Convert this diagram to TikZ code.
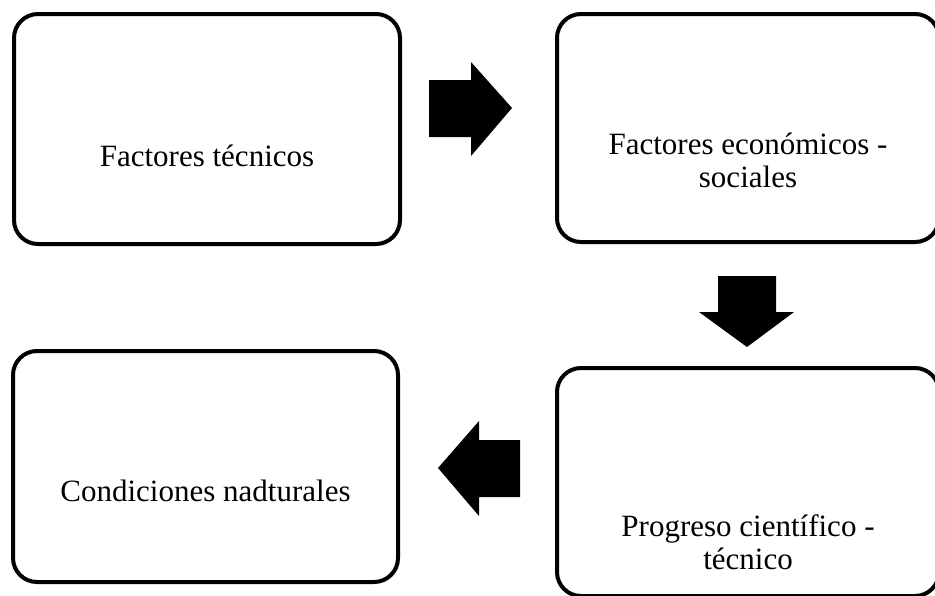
\documentclass[tikz,border=0pt]{standalone}
\usepackage{fontspec}
\setmainfont{Liberation Serif}
\usetikzlibrary{positioning}

\tikzset{
  stagebox/.style={draw=black, line width=4pt, rounded corners=24pt, inner sep=0pt},
  stagetext/.style={align=center, font=\fontsize{31}{33}\selectfont},
  blockarrow/.style={fill=black, draw=none}
}

\begin{document}
\begin{tikzpicture}[x=1pt,y=-1pt]
      \clip (0,0) rectangle (935,595);
      \useasboundingbox (0,0) rectangle (935,595);
      % stages
      \node[stagebox, minimum width=386pt, minimum height=230pt] (tec) at (207,129) {};
      \node[stagebox, minimum width=382pt, minimum height=228pt] (eco) at (748,128) {};
      \node[stagebox, minimum width=385pt, minimum height=231pt] (nat) at (205.5,466.5) {};
      \node[stagebox, minimum width=382pt, minimum height=228pt] (pro) at (748,482) {};
      \node[stagetext] (tectxt) at ([yshift=-27pt]tec.center) {Factores técnicos};
      \node[stagetext] (ecotxt) at ([yshift=-32pt]eco.center) {Factores económicos -\\sociales};
      \node[stagetext] (nattxt) at ([yshift=-24pt]nat.center) {Condiciones nadturales};
      \node[stagetext] (protxt) at ([yshift=-60pt]pro.center) {Progreso científico -\\técnico};
      % arrows between stages
      \fill[blockarrow] (429,80) -- (471,80) -- (471,62) -- (512,108) -- (471,156) -- (471,137) -- (429,137) -- cycle;
      \fill[blockarrow] (718,276) -- (776,276) -- (776,312) -- (794,312) -- (747,347) -- (699,312) -- (718,312) -- cycle;
      \fill[blockarrow] (520,440) -- (479,440) -- (479,421) -- (438,468) -- (479,516) -- (479,497) -- (520,497) -- cycle;
    \end{tikzpicture}
\end{document}
